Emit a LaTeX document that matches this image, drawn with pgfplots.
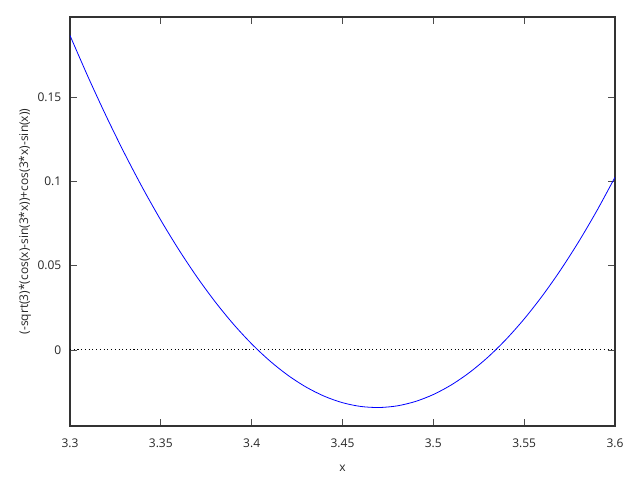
\documentclass[border=0pt]{standalone}
\usepackage{fontspec}
\setmainfont{Open Sans}
\usepackage{pgfplots}
\pgfplotsset{compat=1.18}
\begin{document}
\begin{tikzpicture}
\path[use as bounding box] (0pt,0pt) rectangle (480pt,360pt);
\begin{axis}[
  at={(52.5pt,40.5pt)}, anchor=south west,
  scale only axis, width=408.75pt, height=306.75pt,
  xmin=3.3, xmax=3.6, ymin=-0.0451, ymax=0.1974,
  xtick={3.3,3.35,3.4,3.45,3.5,3.55,3.6},
  xticklabels={3.3,3.35,3.4,3.45,3.5,3.55,3.6},
  ytick={0,0.05,0.1,0.15},
  yticklabels={0,0.05,0.1,0.15},
  tick align=inside, major tick length=5pt,
  tick style={black!70, line width=0.6pt},
  axis line style={black!80, line width=0.9pt},
  every tick label/.append style={font=\fontsize{9}{11}\selectfont, text=black!85},
  xticklabel style={yshift=-6pt},
  yticklabel style={xshift=-3pt},
  xlabel={x}, ylabel={(-sqrt(3)*(cos(x)-sin(3*x))+cos(3*x)-sin(x))},
  label style={font=\fontsize{9}{11}\selectfont, text=black!85},
  xlabel style={yshift=-6pt},
  ylabel style={yshift=-2pt},
  /pgf/number format/assume math mode=true,
  clip=true,
]
\addplot[black, dotted, line width=0.8pt] coordinates {(3.3,0) (3.6,0)};
\addplot[blue, line width=0.6pt, smooth] coordinates {
(3.30,0.186442) (3.31,0.161774) (3.32,0.138460) (3.33,0.116528) (3.34,0.096002)
(3.35,0.076908) (3.36,0.059262) (3.37,0.043090) (3.38,0.028410) (3.39,0.015238)
(3.40,0.003594) (3.41,-0.006510) (3.42,-0.015058) (3.43,-0.022044) (3.44,-0.027452)
(3.45,-0.031276) (3.46,-0.033504) (3.47,-0.034140) (3.48,-0.033178) (3.49,-0.030612)
(3.50,-0.026442) (3.51,-0.020670) (3.52,-0.013300) (3.53,-0.004334) (3.54,0.006220)
(3.55,0.018356) (3.56,0.032066) (3.57,0.047336) (3.58,0.064154) (3.59,0.082512)
(3.60,0.102392)
};
\end{axis}
\end{tikzpicture}
\end{document}
